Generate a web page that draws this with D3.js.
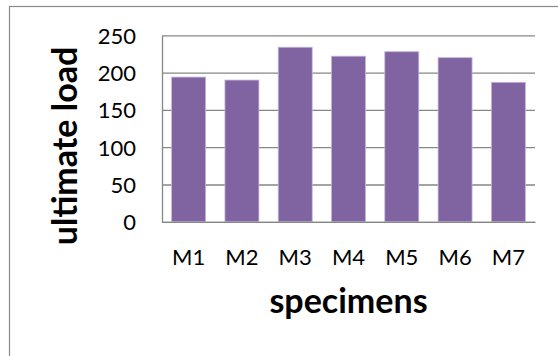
<!DOCTYPE html>
<html>
<head>
<meta charset="utf-8">
<script src="https://cdn.jsdelivr.net/npm/d3@7"></script>
<style>
  html, body { margin: 0; padding: 0; background: #ffffff; }
  svg { display: block; }
</style>
</head>
<body>
<svg id="chart" width="558" height="356"></svg>
<script>
// Ultimate load per specimen
const categories = ["M1", "M2", "M3", "M4", "M5", "M6", "M7"];
const ultimateLoad = [194, 190, 234, 222, 228, 220, 187];
const yTicks = [0, 50, 100, 150, 200, 250];

const svg = d3.select("#chart");

// plot area
const plot = { left: 162, top: 35.3, right: 535, bottom: 221.8 };
const plotW = plot.right - plot.left;
const plotH = plot.bottom - plot.top;

const FONT = "Lato, 'Open Sans', sans-serif";
const GRID = "#868686";
const BAR = "#8064A2";
const TICK_SIZE = 22;

// chart frame (runs off the right and bottom edges)
svg.append("rect")
  .attr("x", 9.5).attr("y", 6.5)
  .attr("width", 700).attr("height", 500)
  .attr("fill", "#ffffff")
  .attr("stroke", "#8a8a8a")
  .attr("stroke-width", 1.2);

const x = d3.scaleBand()
  .domain(categories)
  .range([0, plotW])
  .paddingInner(0.362)
  .paddingOuter(0.181);

const y = d3.scaleLinear()
  .domain([0, 250])
  .range([plotH, 0]);

const g = svg.append("g")
  .attr("transform", `translate(${plot.left},${plot.top})`);

// value axis with gridlines
const yAxis = g.append("g")
  .call(d3.axisLeft(y)
    .tickValues(yTicks)
    .tickSizeInner(-plotW)
    .tickSizeOuter(0)
    .tickPadding(26)
    .tickFormat(d3.format("d")));
yAxis.selectAll(".tick line").attr("stroke", GRID).attr("stroke-width", 1.3);
yAxis.select(".domain").attr("stroke", GRID).attr("stroke-width", 1.3);
yAxis.selectAll(".tick text")
  .attr("font-family", FONT)
  .attr("font-size", TICK_SIZE)
  .attr("fill", "#000000")
  .attr("dy", "0.36em");

// bars
g.selectAll("rect.bar")
  .data(categories.map((c, i) => ({ c, v: ultimateLoad[i] })))
  .join("rect")
  .attr("class", "bar")
  .attr("x", d => x(d.c))
  .attr("y", d => y(d.v))
  .attr("width", x.bandwidth())
  .attr("height", d => y(0) - y(d.v))
  .attr("fill", BAR)
  .attr("stroke", "#c4b6d8")
  .attr("stroke-width", 0.8);

// category axis
const xAxis = g.append("g")
  .attr("transform", `translate(0,${plotH})`)
  .call(d3.axisBottom(x)
    .tickSizeInner(0)
    .tickSizeOuter(0)
    .tickPadding(27.5));
xAxis.select(".domain").attr("stroke", GRID).attr("stroke-width", 1.3);
xAxis.selectAll(".tick text")
  .attr("font-family", FONT)
  .attr("font-size", TICK_SIZE)
  .attr("fill", "#000000");

// axis titles
svg.append("text")
  .attr("x", (plot.left + plot.right) / 2)
  .attr("y", 313)
  .attr("text-anchor", "middle")
  .attr("font-family", FONT)
  .attr("font-weight", "bold")
  .attr("font-size", 34)
  .attr("fill", "#000000")
  .text("specimens");

svg.append("text")
  .attr("transform", "translate(77,146) rotate(-90)")
  .attr("text-anchor", "middle")
  .attr("font-family", FONT)
  .attr("font-weight", "bold")
  .attr("font-size", 34)
  .attr("fill", "#000000")
  .text("ultimate load");
</script>
</body>
</html>
